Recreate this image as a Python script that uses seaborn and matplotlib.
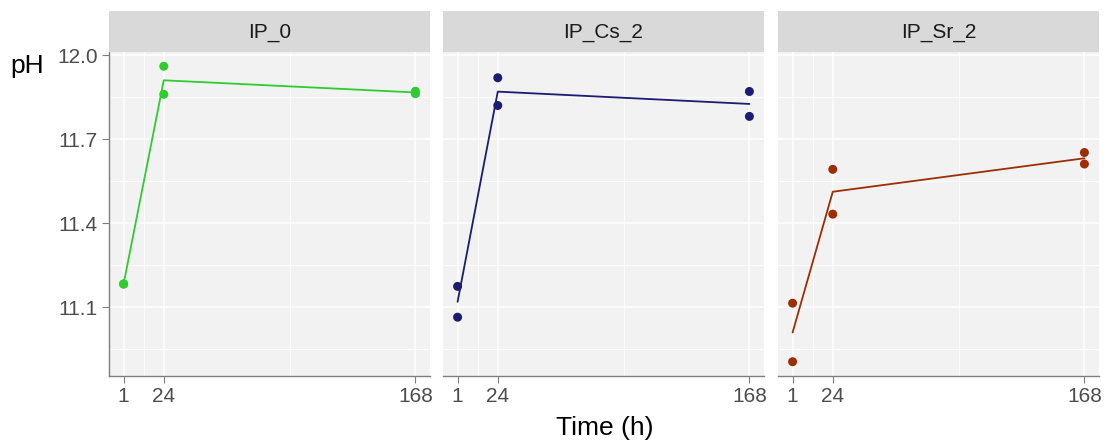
import matplotlib
matplotlib.use("Agg")
import matplotlib.pyplot as plt
import seaborn as sns
import pandas as pd
import numpy as np

# ---- data ----
panels = ["IP_0", "IP_Cs_2", "IP_Sr_2"]
colors = ["#2ECC2E", "#1C1C72", "#9C2E06"]
time_points = [1, 1, 24, 24, 168, 168]
ph_ip0 = [11.183, 11.182, 11.96, 11.86, 11.871, 11.862]
ph_cs2 = [11.174, 11.064, 11.919, 11.820, 11.870, 11.781]
ph_sr2 = [11.114, 10.905, 11.592, 11.432, 11.652, 11.611]
x_ticks = [1, 24, 168]
y_ticks = [11.1, 11.4, 11.7, 12.0]
y_tick_labels = ["11.1", "11.4", "11.7", "12.0"]

frames = []
for name, vals in zip(panels, [ph_ip0, ph_cs2, ph_sr2]):
    frames.append(pd.DataFrame({"panel": name, "time": time_points, "pH": vals}))
df = pd.concat(frames, ignore_index=True)

sns.set_theme(style="white")
plt.rcParams["font.family"] = ["Liberation Sans", "DejaVu Sans"]

W, H = 1111, 443
fig = plt.figure(figsize=(W / 100, H / 100), dpi=100)

lefts = [109, 443, 778]
pw = 321
ptop, pbot = 52, 376
strip_top = 10

xlim = (-7.35, 176.35)
ylim = (10.854, 12.011)

for i, (name, col) in enumerate(zip(panels, colors)):
    l = lefts[i]
    ax = fig.add_axes([l / W, 1 - pbot / H, pw / W, (pbot - ptop) / H])
    ax.set_facecolor("#F2F2F2")
    sub = df[df.panel == name]
    # grid
    for xv in [12.5, 96]:
        ax.axvline(xv, color="white", lw=0.6, zorder=0)
    for xv in x_ticks:
        ax.axvline(xv, color="white", lw=1.1, zorder=0)
    for yv in [10.95, 11.25, 11.55, 11.85]:
        ax.axhline(yv, color="white", lw=0.6, zorder=0)
    for yv in y_ticks:
        ax.axhline(yv, color="white", lw=1.1, zorder=0)
    sns.lineplot(data=sub, x="time", y="pH", estimator="mean", errorbar=None,
                 color=col, lw=1.3, ax=ax, zorder=2)
    sns.scatterplot(data=sub, x="time", y="pH", color=col, s=42, edgecolor="none",
                    ax=ax, zorder=3)
    ax.set_xlim(*xlim)
    ax.set_ylim(*ylim)
    ax.set_xticks(x_ticks)
    ax.set_xticklabels([str(t) for t in x_ticks])
    ax.set_xlabel("")
    ax.set_ylabel("")
    for s in ["top", "right", "left"]:
        ax.spines[s].set_visible(False)
    ax.spines["bottom"].set_color("#7F7F7F")
    ax.spines["bottom"].set_linewidth(1.0)
    ax.tick_params(axis="x", length=5, width=0.8, color="#7F7F7F", labelsize=15,
                   labelcolor="#4D4D4D", pad=3, bottom=True)
    if i == 0:
        ax.spines["left"].set_visible(True)
        ax.spines["left"].set_color("#7F7F7F")
        ax.spines["left"].set_linewidth(1.0)
        ax.set_yticks(y_ticks)
        ax.set_yticklabels(y_tick_labels)
        ax.tick_params(axis="y", length=5, width=0.8, color="#7F7F7F", labelsize=15,
                       labelcolor="#4D4D4D", pad=3, left=True)
    else:
        ax.set_yticks(y_ticks)
        ax.tick_params(axis="y", length=0, labelleft=False)
    ax.grid(False)
    # strip
    sax = fig.add_axes([l / W, 1 - ptop / H, pw / W, (ptop - strip_top - 1) / H])
    sax.set_facecolor("#D9D9D9")
    sax.set_xticks([])
    sax.set_yticks([])
    for s in sax.spines.values():
        s.set_visible(False)
    sax.text(0.5, 0.47, name, ha="center", va="center", fontsize=15,
             color="#1A1A1A", transform=sax.transAxes)

fig.text(27 / W, 1 - 66 / H, "pH", ha="center", va="center", fontsize=19, color="black")
fig.text(605 / W, 1 - 428 / H, "Time (h)", ha="center", va="center", fontsize=19, color="black")

fig.savefig("out.png", dpi=100, facecolor="white")
